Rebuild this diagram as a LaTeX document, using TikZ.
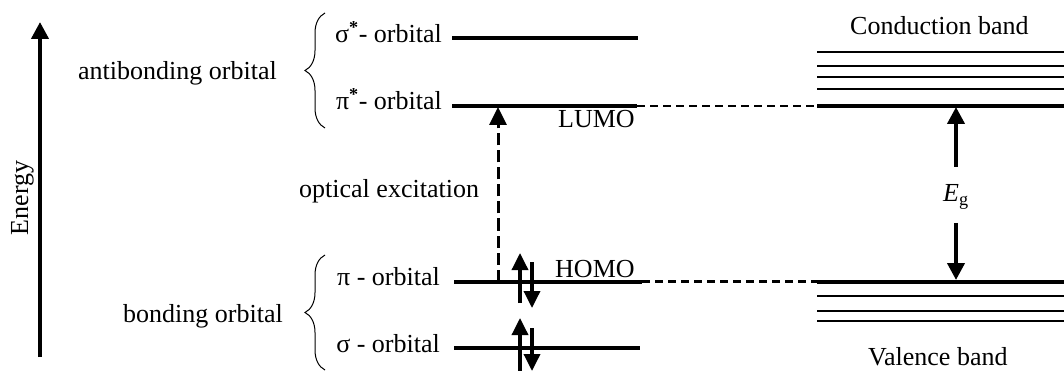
\documentclass[tikz,border=0pt]{standalone}
\usepackage{fontspec}
\setmainfont{Liberation Serif}
\usetikzlibrary{arrows.meta,decorations.pathreplacing}
\begin{document}
\begin{tikzpicture}[x=1pt,y=-1pt,
  every node/.style={inner sep=0pt, font=\fontsize{26}{30}\selectfont},
  level/.style={line width=4pt},
  thinband/.style={line width=1.4pt},
  bigarrow/.style={line width=4pt,-{Triangle[width=17pt,length=17pt]}},
  spin/.style={line width=3.5pt,-{Triangle[width=16pt,length=17pt]}},
  dashconn/.style={line width=2.5pt, dash pattern=on 8pt off 5pt},
  optarrow/.style={line width=3pt, dash pattern=on 12pt off 5pt,-{Triangle[width=17pt,length=18pt]}},
  brc/.style={decorate, decoration={brace,amplitude=20pt}, line width=1pt}]
\useasboundingbox (0,0) rectangle (1064,371);

% Energy axis
\coordinate (eb) at (40,357);
\coordinate (et) at (40,22);
\draw[bigarrow] (eb) -- (et);
\node[rotate=90, anchor=base] (energy) at (28,198) {Energy};

% labels left
\node[anchor=base west] (anti) at (78,80) {antibonding orbital};
\node[anchor=base west] (bond) at (123,322) {bonding orbital};
\coordinate (ab1) at (325,128);
\coordinate (ab2) at (325,13);
\draw[brc] (ab1) -- (ab2);
\coordinate (bb1) at (325,370);
\coordinate (bb2) at (325,255);
\draw[brc] (bb1) -- (bb2);

% orbital labels
\node[anchor=base east] (sigs) at (442,43) {σ\textsuperscript{\textbf{*}}- orbital};
\node[anchor=base east] (pis) at (442,110) {π\textsuperscript{\textbf{*}}- orbital};
\node[anchor=base east] (pi) at (440,285) {π - orbital};
\node[anchor=base east] (sig) at (440,352) {σ - orbital};

% molecular levels
\coordinate (s1) at (452,38);  \coordinate (s2) at (638,38);
\coordinate (ps1) at (452,106); \coordinate (ps2) at (637,106);
\coordinate (p1) at (454,281.5); \coordinate (p2) at (642,281.5);
\coordinate (g1) at (454,348); \coordinate (g2) at (640,348);
\draw[level] (s1) -- (s2);
\draw[level] (ps1) -- (ps2);
\draw[level] (p1) -- (p2);
\draw[level] (g1) -- (g2);

\node[anchor=base west] (lumo) at (558,128) {LUMO};
\node[anchor=base west] (homo) at (555,277) {HOMO};

% band edges
\coordinate (cb1) at (817,106); \coordinate (cb2) at (1064,106);
\coordinate (vb1) at (817,281.5); \coordinate (vb2) at (1064,281.5);
\draw[dashconn] (ps2) -- (cb1);
\draw[dashconn] (p2) -- (vb1);
\draw[level] (cb1) -- (cb2);
\draw[level] (vb1) -- (vb2);
\foreach \y in {52,66,77,89} \draw[thinband] (817,\y) -- (1064,\y);
\foreach \y in {296,311,321} \draw[thinband] (817,\y) -- (1064,\y);

\node[anchor=base west] (cband) at (850,35) {Conduction band};
\node[anchor=base west] (vband) at (868,365) {Valence band};

% band gap
\coordinate (eu1) at (956,167); \coordinate (eu2) at (956,107);
\coordinate (ed1) at (956,223); \coordinate (ed2) at (956,280);
\draw[bigarrow] (eu1) -- (eu2);
\draw[bigarrow] (ed1) -- (ed2);
\node[anchor=base west] (eg) at (943,202) {\textit{E}\textsubscript{g}};

% optical excitation
\coordinate (o1) at (498,281.5); \coordinate (o2) at (498,107);
\draw[optarrow] (o1) -- (o2);
\node[anchor=base west] (opt) at (299,198) {optical excitation};

% spins
\coordinate (hu1) at (520,303); \coordinate (hu2) at (520,253);
\coordinate (hd1) at (532,262); \coordinate (hd2) at (532,308);
\coordinate (su1) at (520,371); \coordinate (su2) at (520,318);
\coordinate (sd1) at (532,328); \coordinate (sd2) at (532,371);
\draw[spin] (hu1) -- (hu2);
\draw[spin] (hd1) -- (hd2);
\draw[spin] (su1) -- (su2);
\draw[spin] (sd1) -- (sd2);
\end{tikzpicture}
\end{document}
